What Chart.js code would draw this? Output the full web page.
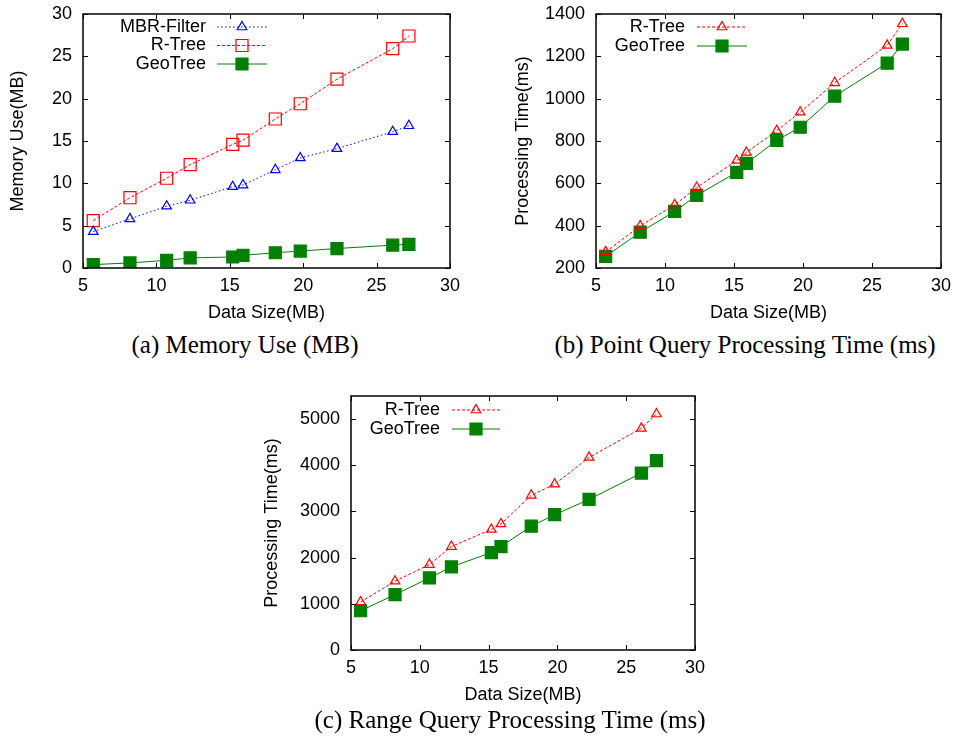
<!DOCTYPE html>
<html>
<head>
<meta charset="utf-8">
<script src="https://cdn.jsdelivr.net/npm/chart.js@4.4.1/dist/chart.umd.min.js"></script>
<style>
  body { margin: 0; background: #fff; width: 956px; height: 742px; position: relative; overflow: hidden; }
  canvas { position: absolute; }
  .cap { position: absolute; font-family: "Liberation Serif", serif; font-size: 25px; line-height: 29px; color: #000; white-space: nowrap; transform: translateX(-50%); }
</style>
</head>
<body>
<canvas id="chartA" width="470" height="324" style="left:0;top:0"></canvas>
<canvas id="chartB" width="451" height="324" style="left:505px;top:0"></canvas>
<canvas id="chartC" width="456" height="326" style="left:254px;top:380px"></canvas>
<div class="cap" style="left:245px;top:330px">(a) Memory Use (MB)</div>
<div class="cap" style="left:745px;top:330px">(b) Point Query Processing Time (ms)</div>
<div class="cap" style="left:510px;top:705px">(c) Range Query Processing Time (ms)</div>
<script>
// data size of each test file (MB)
const dataSize = [5.7, 8.2, 10.7, 12.3, 15.2, 15.9, 18.1, 19.8, 22.3, 26.1, 27.2];

// (a) memory use (MB)
const memMbrFilter = [4.3, 5.8, 7.3, 8.0, 9.6, 9.8, 11.6, 13.0, 14.1, 16.1, 16.8];
const memRTree = [5.6, 8.3, 10.6, 12.2, 14.6, 15.1, 17.6, 19.4, 22.3, 25.9, 27.4];
const memGeoTree = [0.4, 0.6, 0.9, 1.2, 1.3, 1.5, 1.8, 2.0, 2.3, 2.7, 2.8];

// (b) point query time (ms)
const pointRTree = [276, 399, 498, 580, 708, 746, 849, 936, 1075, 1252, 1354];
const pointGeoTree = [255, 369, 467, 543, 652, 694, 803, 865, 1012, 1168, 1258];

// (c) range query time (ms)
const rangeRTree = [1040, 1490, 1850, 2240, 2610, 2730, 3350, 3590, 4170, 4800, 5110];
const rangeGeoTree = [850, 1200, 1560, 1800, 2110, 2240, 2680, 2930, 3260, 3830, 4100];

// tick labels
const xTicks = [5, 10, 15, 20, 25, 30];
const memTicks = [0, 5, 10, 15, 20, 25, 30];
const pointTicks = [200, 400, 600, 800, 1000, 1200, 1400];
const rangeTicks = [0, 1000, 2000, 3000, 4000, 5000];

const FONT = '"Liberation Sans", Arial, sans-serif';
const RED = '#ff0000', BLUE = '#0000ff', GREEN = '#008000';

// gnuplot style box with inward ticks on all four sides
const gnuFrame = {
  id: 'gnuFrame',
  afterDraw(chart) {
    const { ctx, chartArea: a, scales: { x, y } } = chart;
    const t = 5;
    ctx.save();
    ctx.strokeStyle = '#000';
    ctx.lineWidth = 1;
    ctx.beginPath();
    x.ticks.forEach(tk => {
      const px = Math.round(x.getPixelForValue(tk.value)) + 0.5;
      ctx.moveTo(px, a.bottom); ctx.lineTo(px, a.bottom - t);
      ctx.moveTo(px, a.top); ctx.lineTo(px, a.top + t);
    });
    y.ticks.forEach(tk => {
      const py = Math.round(y.getPixelForValue(tk.value)) + 0.5;
      ctx.moveTo(a.left, py); ctx.lineTo(a.left + t, py);
      ctx.moveTo(a.right, py); ctx.lineTo(a.right - t, py);
    });
    ctx.stroke();
    ctx.lineWidth = 1.5;
    ctx.strokeRect(a.left, a.top, a.right - a.left, a.bottom - a.top);
    ctx.restore();
  }
};

// key in the top-left corner: label right-aligned, then a line sample with its marker
const gnuKey = {
  id: 'gnuKey',
  afterDatasetsDraw(chart, args, opts) {
    const { ctx, chartArea: a } = chart;
    ctx.save();
    chart.data.datasets.forEach((ds, i) => {
      const yy = a.top + opts.top + i * opts.gap;
      ctx.font = '18px ' + FONT;
      ctx.fillStyle = '#000';
      ctx.textAlign = 'right';
      ctx.textBaseline = 'middle';
      ctx.fillText(ds.label, a.left + opts.textRight, yy);
      ctx.strokeStyle = ds.borderColor;
      ctx.lineWidth = ds.borderWidth;
      ctx.setLineDash(ds.borderDash || []);
      ctx.beginPath();
      ctx.moveTo(a.left + opts.lineFrom, yy);
      ctx.lineTo(a.left + opts.lineTo, yy);
      ctx.stroke();
      ctx.setLineDash([]);
      ctx.fillStyle = ds.pointBackgroundColor;
      ctx.strokeStyle = ds.pointBorderColor;
      ctx.lineWidth = ds.pointBorderWidth;
      Chart.helpers.drawPoint(ctx, {
        pointStyle: ds.pointStyle, radius: ds.pointRadius, rotation: 0, borderWidth: ds.pointBorderWidth
      }, a.left + (opts.lineFrom + opts.lineTo) / 2, yy);
    });
    ctx.restore();
  }
};

function series(label, values, color, dash, marker, radius, filled) {
  return {
    label: label,
    data: dataSize.map((x, i) => ({ x: x, y: values[i] })),
    borderColor: color,
    borderWidth: 1,
    borderDash: dash,
    pointStyle: marker,
    pointRadius: radius,
    pointBorderColor: color,
    pointBorderWidth: 1.2,
    pointBackgroundColor: filled ? color : 'rgba(0,0,0,0)',
    tension: 0
  };
}

function makeChart(id, datasets, yMin, yMax, yTickList, yTitle, yWidth, yTitlePad, pad, key) {
  new Chart(document.getElementById(id), {
    type: 'line',
    data: { datasets: datasets },
    options: {
      responsive: false,
      animation: false,
      layout: { padding: pad },
      plugins: { legend: { display: false }, tooltip: { enabled: false }, gnuKey: key },
      scales: {
        x: {
          type: 'linear', min: 5, max: 30,
          afterBuildTicks: s => { s.ticks = xTicks.map(v => ({ value: v })); },
          afterFit: s => { s.height = 56; s.paddingLeft = 0; s.paddingRight = 0; },
          grid: { display: false, drawTicks: false },
          border: { display: false },
          ticks: { color: '#000', padding: 7, font: { family: FONT, size: 18 }, callback: v => String(v) },
          title: { display: true, text: 'Data Size(MB)', color: '#000', padding: { top: 0, bottom: 0 }, font: { family: FONT, size: 18 } }
        },
        y: {
          type: 'linear', min: yMin, max: yMax,
          afterBuildTicks: s => { s.ticks = yTickList.map(v => ({ value: v })); },
          afterFit: s => { s.width = yWidth; s.paddingTop = 0; s.paddingBottom = 0; },
          grid: { display: false, drawTicks: false },
          border: { display: false },
          ticks: { color: '#000', padding: 11, font: { family: FONT, size: 18 }, callback: v => String(v) },
          title: { display: true, text: yTitle, color: '#000', padding: { top: yTitlePad, bottom: 0 }, font: { family: FONT, size: 18 } }
        }
      }
    },
    plugins: [gnuFrame, gnuKey]
  });
}

makeChart('chartA', [
  series('MBR-Filter', memMbrFilter, BLUE, [1.5, 2.5], 'triangle', 5.5, false),
  series('R-Tree', memRTree, RED, [3, 2], 'rect', 8.5, false),
  series('GeoTree', memGeoTree, GREEN, [], 'rect', 8.5, true)
], 0, 30, memTicks, 'Memory Use(MB)', 83, 7,
  { top: 14, right: 20, left: 0, bottom: 0 },
  { textRight: 123, lineFrom: 134, lineTo: 184, top: 13, gap: 18.5 });

makeChart('chartB', [
  series('R-Tree', pointRTree, RED, [3, 2], 'triangle', 5.5, false),
  series('GeoTree', pointGeoTree, GREEN, [], 'rect', 8.5, true)
], 200, 1400, pointTicks, 'Processing Time(ms)', 91, 7,
  { top: 14, right: 15, left: 0, bottom: 0 },
  { textRight: 89, lineFrom: 101, lineTo: 151, top: 13, gap: 19 });

makeChart('chartC', [
  series('R-Tree', rangeRTree, RED, [3, 2], 'triangle', 5.5, false),
  series('GeoTree', rangeGeoTree, GREEN, [], 'rect', 8.5, true)
], 0, 5500, rangeTicks, 'Processing Time(ms)', 97, 7,
  { top: 16, right: 15, left: 0, bottom: 0 },
  { textRight: 89, lineFrom: 101, lineTo: 149, top: 14, gap: 19 });
</script>
</body>
</html>
